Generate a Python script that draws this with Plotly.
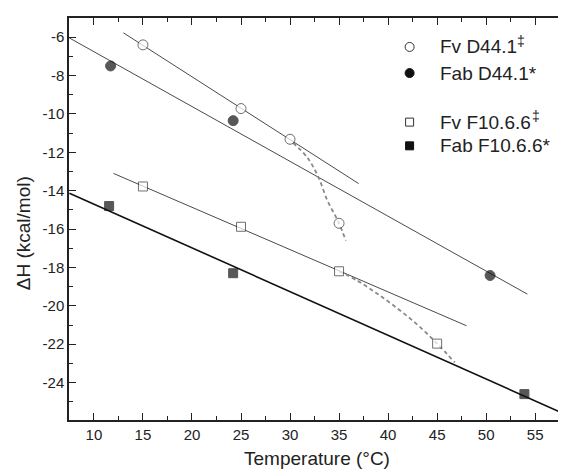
import plotly.graph_objects as go

# Data points
fv_d44_x = [15, 25, 30, 35]
fv_d44_y = [-6.4, -9.72, -11.32, -15.7]
fab_d44_x = [11.7, 24.2, 50.4]
fab_d44_y = [-7.5, -10.35, -18.42]
fv_f10_x = [15, 25, 35, 45]
fv_f10_y = [-13.78, -15.88, -18.2, -21.97]
fab_f10_x = [11.55, 24.2, 53.9]
fab_f10_y = [-14.8, -18.3, -24.6]

# Linear fit lines (end points)
fit_fv_d44_x = [13.0, 37.0]
fit_fv_d44_y = [-5.77, -13.63]
fit_fab_d44_x = [7.5, 54.2]
fit_fab_d44_y = [-6.04, -19.39]
fit_fv_f10_x = [12.0, 48.0]
fit_fv_f10_y = [-13.1, -21.04]
fit_fab_f10_x = [7.5, 58.0]
fit_fab_f10_y = [-14.13, -25.64]

# Dashed trend curves
dash1_x = [30.3, 31.8, 32.9, 33.8, 34.9, 35.7]
dash1_y = [-11.5, -12.3, -13.3, -14.5, -15.6, -16.6]
dash2_x = [35.0, 36.9, 38.7, 40.5, 42.8, 45.0, 46.8]
dash2_y = [-18.2, -18.7, -19.3, -19.96, -20.9, -21.97, -22.95]

# Ticks
x_tickvals = [10, 15, 20, 25, 30, 35, 40, 45, 50, 55]
x_ticktext = ["10", "15", "20", "25", "30", "35", "40", "45", "50", "55"]
y_tickvals = [-6, -8, -10, -12, -14, -16, -18, -20, -22, -24]
y_ticktext = ["-6", "-8", "-10", "-12", "-14", "-16", "-18", "-20", "-22", "-24"]

# Legend labels (‡ drawn as a separate raised mark)
legend_labels = ["Fv D44.1", "Fab D44.1*", "Fv F10.6.6", "Fab F10.6.6*"]
legend_rows = [0.928, 0.863, 0.741, 0.682]
dagger_marks = [(0.896, 0.944), (0.925, 0.755)]

fig = go.Figure()

# gray fit lines combined into one trace
gx, gy = [], []
for xs, ys in [(fit_fv_d44_x, fit_fv_d44_y), (fit_fab_d44_x, fit_fab_d44_y), (fit_fv_f10_x, fit_fv_f10_y)]:
    gx += list(xs) + [None]
    gy += list(ys) + [None]
fig.add_trace(go.Scatter(x=gx, y=gy, mode="lines", line=dict(color="#4a4a4a", width=1), showlegend=False))
fig.add_trace(go.Scatter(x=fit_fab_f10_x, y=fit_fab_f10_y, mode="lines",
                         line=dict(color="#111", width=1.6), showlegend=False))
dx_all = list(dash1_x) + [None] + list(dash2_x)
dy_all = list(dash1_y) + [None] + list(dash2_y)
fig.add_trace(go.Scatter(x=dx_all, y=dy_all, mode="lines", connectgaps=False,
                         line=dict(color="#8a8a8a", width=1.8, dash="4px,3px", shape="spline"),
                         showlegend=False))

series = [
    (fv_d44_x, fv_d44_y, "circle", 10, "white", "#333"),
    (fab_d44_x, fab_d44_y, "circle", 10, "#111", "#111"),
    (fv_f10_x, fv_f10_y, "square", 9, "white", "#333"),
    (fab_f10_x, fab_f10_y, "square", 9, "#111", "#111"),
]
mx, my, msym, msz, mfill, medge = [], [], [], [], [], []
for xs, ys, sym, sz, fill, edge in series:
    mx += list(xs)
    my += list(ys)
    msym += [sym] * len(xs)
    msz += [sz] * len(xs)
    mfill += [fill] * len(xs)
    medge += [edge] * len(xs)
fig.add_trace(go.Scatter(x=mx, y=my, mode="markers", showlegend=False,
                         marker=dict(symbol=msym, size=msz, color=mfill, line=dict(color=medge, width=1))))

font_family = "Liberation Sans, Arial, sans-serif"
tick_font = dict(family=font_family, size=15, color="#222")
title_font = dict(family=font_family, size=19, color="#222")

fig.update_xaxes(range=[7.46, 58.04], tickmode="array", tickvals=x_tickvals, ticktext=x_ticktext,
                 showline=True, linecolor="#222", linewidth=1.5, mirror="allticks",
                 ticks="inside", ticklen=7, tickwidth=1.3, tickcolor="#222",
                 showgrid=False, zeroline=False, tickfont=tick_font,
                 minor=dict(ticks="inside", ticklen=4, dtick=2.5, tick0=7.5, tickcolor="#222", tickwidth=1.3),
                 title=dict(text="Temperature (°C)", font=title_font, standoff=10))
fig.update_yaxes(range=[-25.95, -5.0], tickmode="array", tickvals=y_tickvals, ticktext=y_ticktext,
                 showline=True, linecolor="#222", linewidth=1.5, mirror="allticks",
                 ticks="inside", ticklen=7, tickwidth=1.3, tickcolor="#222",
                 showgrid=False, zeroline=False, tickfont=tick_font,
                 minor=dict(ticks="inside", ticklen=4, dtick=1, tick0=-5, tickcolor="#222", tickwidth=1.3))

annotations = [dict(text="ΔH (kcal/mol)", textangle=-90, xref="paper", yref="paper",
                    x=-0.0924, y=0.465, xanchor="center", yanchor="middle", showarrow=False,
                    font=title_font)]
shapes = []
sym_x = 0.6867
for (xs, ys, sym, sz, fill, edge), label, yy in zip(series, legend_labels, legend_rows):
    half = 4.5 if sym == "circle" else 4
    shapes.append(dict(type="circle" if sym == "circle" else "rect", xref="paper", yref="paper",
                       xsizemode="pixel", ysizemode="pixel", xanchor=sym_x, yanchor=yy,
                       x0=-half, x1=half, y0=-half, y1=half,
                       fillcolor=fill, line=dict(color=edge, width=1)))
    annotations.append(dict(text=label, xref="paper", yref="paper", x=0.743, y=yy,
                            xanchor="left", yanchor="middle", showarrow=False,
                            font=dict(family=font_family, size=19, color="#222")))
for ddx, ddy in dagger_marks:
    annotations.append(dict(text="‡", xref="paper", yref="paper", x=ddx + 0.004, y=ddy,
                            xanchor="left", yanchor="middle", showarrow=False,
                            font=dict(family=font_family, size=14, color="#222")))

fig.update_layout(width=559, height=461, margin=dict(l=61, r=0, t=10, b=49),
                  plot_bgcolor="white", paper_bgcolor="white", showlegend=False,
                  annotations=annotations, shapes=shapes)
fig.write_html("out.html")
